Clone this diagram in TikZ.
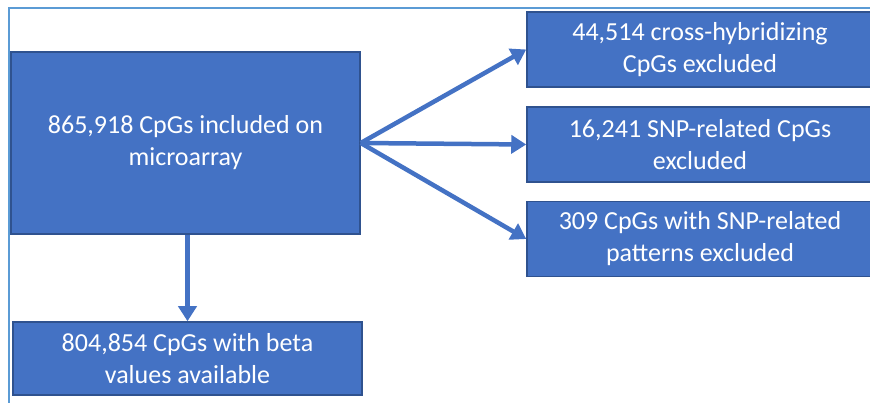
\documentclass[tikz,border=0pt]{standalone}
\usepackage{fontspec}
\setmainfont{Carlito}
\usetikzlibrary{arrows.meta}
\definecolor{boxblue}{HTML}{4472C4}
\definecolor{boxedge}{HTML}{2F528F}
\definecolor{framblue}{HTML}{5B9BD5}
\begin{document}
\begin{tikzpicture}[x=1pt,y=-1pt,
	box/.style={draw=boxedge, line width=1.5pt, fill=boxblue, text=white, align=center, inner sep=0, font=\fontsize{26}{32}\selectfont},
	arr/.style={draw=boxblue, line width=4.5pt, -{Triangle[length=15pt,width=18pt]}}]
	\useasboundingbox (0,0) rectangle (870,403);
	\clip (0,0) rectangle (870,403);
	\draw[framblue, line width=1.5pt] (9,403) -- (9,8) -- (870,8);
	\node[box, minimum width=349, minimum height=182] (main) at (185.5,143) {865,918 CpGs included on\\microarray};
	\node[box, minimum width=349, minimum height=73] (beta) at (187.5,358.5) {804,854 CpGs with beta\\values available};
	\foreach \nm/\y/\txt in {cross/49.5/{44,514 cross-hybridizing\\CpGs excluded},snp/144.5/{16,241 SNP-related CpGs\\excluded},pat/239/{309 CpGs with SNP-related\\patterns excluded}}
	{
		\node[box, minimum width=346, minimum height=75] (\nm) at (700,\y) {\txt};
		\draw[arr] (main.east) -- (\nm.west);
	}
	\draw[arr] (beta.north |- main.south) -- (beta.north);
\end{tikzpicture}
\end{document}
